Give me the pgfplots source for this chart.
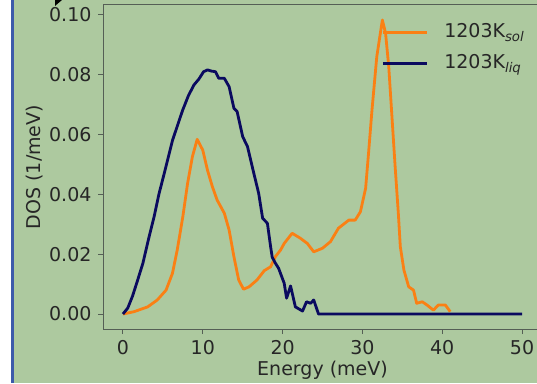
\documentclass[border=0pt]{standalone}
\usepackage{fontspec}
\setmainfont{DejaVu Sans}
\usepackage{pgfplots}
\pgfplotsset{compat=1.18}
\definecolor{bg}{RGB}{173,201,159}
\definecolor{navyc}{RGB}{10,10,95}
\definecolor{orangec}{RGB}{250,128,20}
\definecolor{framec}{RGB}{60,90,170}
\definecolor{axc}{RGB}{85,95,85}
\begin{document}
\fontsize{19}{22}\selectfont
\begin{tikzpicture}[x=1pt,y=1pt]
\useasboundingbox (0,0) rectangle (537,383);
\fill[white] (0,0) rectangle (537,383);
\fill[bg] (14,0) rectangle (537,383);
\fill[framec] (11,0) rectangle (14,383);
\fill[black] (55,383) -- (62,383) -- (55,377) -- cycle;
\begin{axis}[
  at={(103pt,54pt)}, anchor=south west,
  width=439pt, height=324pt, scale only axis,
  xmin=-2.5, xmax=52.5, ymin=-0.005, ymax=0.1033,
  axis line style={axc, line width=1pt},
  tick align=outside, major tick length=5pt,
  tick style={axc, line width=1pt},
  xtick={0,10,20,30,40,50},
  ytick={0,0.02,0.04,0.06,0.08,0.1},
  xtick pos=bottom, ytick pos=left,
  /pgf/number format/assume math mode=true,
  yticklabel style={/pgf/number format/.cd, fixed, fixed zerofill, precision=2},
  scaled y ticks=false,
  tick label style={text=black!85, font=\fontsize{19}{22}\selectfont},
  xlabel={Energy (meV)}, ylabel={DOS (1/meV)},
  xlabel style={at={(rel axis cs:0.5,0)}, anchor=north, yshift=-32pt, inner sep=0pt, text=black!85},
  ylabel style={at={(rel axis cs:-0.157,0.5)}, anchor=center, text=black!85},
  legend style={draw=none, fill=none, at={(0.627,0.950)}, anchor=north west,
    font=\fontsize{19}{22}\selectfont, text=black!85, row sep=13pt,
    nodes={inner sep=0pt, text height=14pt, text depth=4pt}},
  legend cell align=left,
  legend image code/.code={\draw[#1] (0pt,0pt) -- (44pt,0pt); \path (60pt,0pt);},
  every axis plot/.append style={line width=2.8pt, line join=round},
]
\addplot[orangec] coordinates {
(0,0) (1.4,0.0008) (3.1,0.0024) (4.3,0.0047) (5.4,0.008) (6.2,0.0136) (6.8,0.0214) (7.5,0.0325) (8.1,0.0437) (8.7,0.0526) (9.3,0.0584) (10.0,0.0548) (10.6,0.048) (11.2,0.0426) (11.8,0.0381) (12.7,0.0337) (13.3,0.0281) (13.9,0.0192) (14.5,0.0114) (15.1,0.0083) (15.8,0.0091) (16.8,0.0114) (17.7,0.0145) (18.5,0.0158) (19.1,0.0192) (19.75,0.0214) (20.2,0.0236) (21.2,0.027) (22.25,0.0253) (23.1,0.0236) (23.9,0.0208) (25.0,0.022) (26.0,0.0242) (27.0,0.0287) (28.3,0.0314) (29.1,0.0314) (29.75,0.0342) (30.4,0.0420) (30.8,0.0548) (31.2,0.0682) (31.8,0.086) (32.5,0.0983) (32.9,0.0939) (33.3,0.0827) (33.7,0.066) (34.1,0.0493) (34.5,0.0337) (34.75,0.0225) (35.2,0.0147) (35.8,0.0091) (36.4,0.008) (36.8,0.0036) (37.5,0.0041) (38.1,0.003) (38.9,0.0013) (39.5,0.003) (40.4,0.003) (41.0,0.0008)
};
\addlegendentry{1203K\textsubscript{\itshape sol}}
\addplot[navyc] coordinates {
(0,0) (0.6,0.002) (1.2,0.006) (1.8,0.011) (2.5,0.017) (3.2,0.025) (3.9,0.0325) (4.5,0.040) (5.17,0.047) (6.2,0.058) (7.46,0.068) (8.2,0.073) (8.9,0.0766) (9.5,0.0785) (10.1,0.0810) (10.6,0.0816) (11.1,0.0812) (11.6,0.081) (12.0,0.0788) (12.7,0.0788) (13.3,0.076) (13.9,0.0688) (14.3,0.0677) (15.0,0.0593) (15.6,0.056) (16.4,0.047) (17.0,0.0404) (17.5,0.032) (17.9,0.0309) (18.1,0.0303) (18.5,0.0225) (18.7,0.019) (19.1,0.017) (19.5,0.0153) (20.2,0.0103) (20.5,0.0053) (21.0,0.0094) (21.6,0.0024) (22.5,0.001) (23.0,0.0041) (23.5,0.0036) (23.9,0.0047) (24.5,0) (50,0)
};
\addlegendentry{1203K\textsubscript{\itshape liq}}
\end{axis}
\end{tikzpicture}
\end{document}
